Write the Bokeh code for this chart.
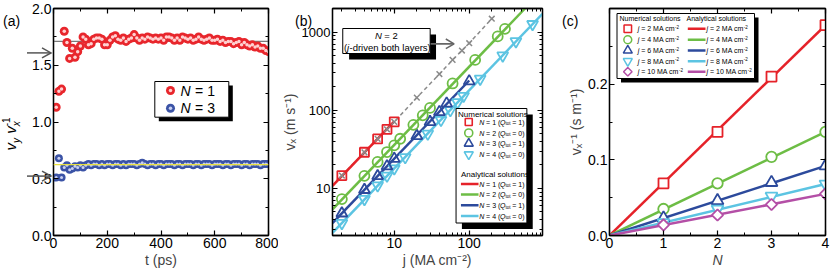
import math
from bokeh.plotting import figure
from bokeh.models import (LinearAxis, LogAxis, Span, NumeralTickFormatter, FixedTicker,
                          SingleIntervalTicker, Range1d, Div)
from bokeh.layouts import row
from bokeh.embed import file_html
from bokeh.resources import INLINE
from bokeh.core.properties import value

FONT = "Liberation Sans"

# ---------------- panel (a) data ----------------
t_ps = list(range(10, 810, 10))
ratio_N1 = [1.13, 1.27, 1.29, 1.80, 1.70, 1.56, 1.65, 1.57, 1.62, 1.67,
            1.75, 1.73, 1.68, 1.69, 1.73, 1.74, 1.74, 1.73, 1.68, 1.68,
            1.72, 1.75, 1.76, 1.73, 1.72, 1.74, 1.71, 1.73, 1.74, 1.77,
            1.74, 1.72, 1.74, 1.73, 1.75, 1.74, 1.73, 1.74, 1.73, 1.74,
            1.72, 1.75, 1.75, 1.74, 1.72, 1.74, 1.72, 1.75, 1.74, 1.73,
            1.74, 1.72, 1.73, 1.75, 1.73, 1.72, 1.73, 1.74, 1.72, 1.72,
            1.73, 1.71, 1.72, 1.70, 1.71, 1.71, 1.69, 1.70, 1.71, 1.68,
            1.70, 1.68, 1.67, 1.68, 1.66, 1.67, 1.65, 1.65, 1.63, 1.62]
ratio_N3 = [0.51, 0.68, 0.51, 0.60, 0.62, 0.58, 0.59, 0.61, 0.60, 0.62,
            0.60, 0.62,
            0.63, 0.62, 0.63, 0.63, 0.62, 0.63, 0.62, 0.63, 0.63, 0.62,
            0.63, 0.63, 0.62, 0.63, 0.62, 0.63, 0.63, 0.63, 0.62, 0.63,
            0.64, 0.63, 0.62, 0.63, 0.63, 0.62, 0.63, 0.63, 0.62, 0.63,
            0.63, 0.63, 0.62, 0.63, 0.63, 0.62, 0.63, 0.63, 0.63, 0.62,
            0.63, 0.63, 0.62, 0.63, 0.63, 0.63, 0.62, 0.63, 0.63, 0.63,
            0.62, 0.63, 0.63, 0.62, 0.63, 0.63, 0.63, 0.62, 0.63, 0.63,
            0.62, 0.63, 0.63, 0.63, 0.62, 0.63, 0.63, 0.63]
ratio_analytic = [1.71, 0.625]
N_legend_a = [1, 3]

# ---------------- panel (b) data ----------------
j_N1 = [2, 4, 6, 8, 10]
v_N1 = [14.6, 29.0, 43.0, 57.0, 71.0]
j_both = [2, 4, 6, 8, 10, 20, 40, 60, 80, 100, 200]
v_both = [14.6, 29.0, 43.0, 57.0, 71.0, 145, 290, 440, 580, 720, 1480]
j_N2 = [2, 4, 6, 8, 10, 12, 18, 24, 30, 60, 120, 240, 300]
v_N2 = [7.3, 14.5, 21.8, 29.2, 35.6, 43.2, 65, 86, 107, 220, 440, 880, 1100]
j_N3 = [2, 4, 6, 8, 10, 20, 30, 40, 50, 100]
v_N3 = [4.8, 9.6, 14.4, 19.2, 24, 47, 71, 95, 122, 235]
j_N4 = [2, 4, 6, 8, 10, 14, 28, 42, 56, 70, 84, 140, 280, 420, 700]
v_N4 = [3.6, 7.3, 10.9, 14.5, 18, 25, 50, 75, 100, 126, 152, 252, 500, 760, 1260]
# analytical solutions (end points)
j_ana_N1 = [1.5, 10]
v_ana_N1 = [10.8, 72]
j_ana_N2 = [1.5, 555]
v_ana_N2 = [5.4, 2000]
j_ana_N3 = [1.5, 100]
v_ana_N3 = [3.6, 240]
j_ana_N4 = [1.5, 950]
v_ana_N4 = [2.7, 1710]
N_legend_b = [1, 2, 3, 4]
Qtot_legend_b = [1, 0, 1, 0]

# ---------------- panel (c) data ----------------
N_num = [1, 2, 3, 4]
inv_j2 = [0.069, 0.137, 0.210, 0.278]
inv_j4 = [0.035, 0.069, 0.104, 0.137]
inv_j6 = [0.023, 0.046, 0.070, 0.092]
inv_j8 = [0.017, 0.035, 0.052, 0.068]
inv_j10 = [0.014, 0.027, 0.041, 0.055]
N_ana = [0, 4]
inv_ana_j2 = [0, 0.278]
inv_ana_j4 = [0, 0.137]
inv_ana_j6 = [0, 0.092]
inv_ana_j8 = [0, 0.068]
inv_ana_j10 = [0, 0.055]
j_legend_c = [2, 4, 6, 8, 10]

RED = "#e52229"
GREEN = "#6dbd45"
BLUE = "#2c4a9c"
CYAN = "#5cc4e2"
MAG = "#b44fa6"
GRAY = "#8a8a8a"
SRED = "#e8262c"
SBLUE = "#3b53a6"

H = 272
FR_TOP, FR_BOT = 8, 235  # frame top / bottom in page pixels

# Arial / Liberation Sans advance widths (em)
CW = {" ": .278, "=": .584, "(": .333, ")": .333, "-": .333, "M": .833, "A": .667,
      "c": .5, "m": .833, "Q": .778, "N": .722, "j": .222, "t": .278, "o": .556,
      "v": .5, "x": .5, "y": .5, ".": .278}


def tw(s, size):
    return sum(CW.get(ch, .556) for ch in s) * size


def style_axis(ax, labels=True, fs="14px"):
    ax.major_tick_in = 5
    ax.major_tick_out = 0
    ax.minor_tick_in = 3
    ax.minor_tick_out = 0
    ax.axis_line_width = 1.3
    ax.major_tick_line_width = 1.2
    ax.minor_tick_line_width = 1
    ax.major_label_text_font = FONT
    ax.axis_label_text_font = FONT
    ax.axis_label_text_font_size = "14px"
    ax.axis_label_text_font_style = "normal"
    ax.axis_label_standoff = 1
    ax.major_label_text_font_size = fs
    if labels:
        ax.major_label_text_color = "black"
        ax.major_label_standoff = 2
    else:
        ax.major_label_text_color = None
        ax.major_label_standoff = 0


def make_fig(width, xr, yr, xtype, ytype, bl, br, xlabel, ylabel):
    p = figure(width=width, height=H, x_range=xr, y_range=yr,
               x_axis_type=xtype, y_axis_type=ytype,
               output_backend="svg", toolbar_location=None,
               min_border_left=bl, min_border_right=br,
               min_border_top=FR_TOP, min_border_bottom=H - FR_BOT,
               x_axis_label=xlabel, y_axis_label=ylabel)
    p.xgrid.visible = False
    p.ygrid.visible = False
    p.outline_line_color = "black"
    p.outline_line_width = 1.3
    p.background_fill_color = "white"
    p.border_fill_color = None
    return p


def add_mirror(p, xticker, yticker, log_x=False, log_y=False):
    top = LogAxis(ticker=xticker) if log_x else LinearAxis(ticker=xticker)
    right = LogAxis(ticker=yticker) if log_y else LinearAxis(ticker=yticker)
    style_axis(top, labels=False)
    style_axis(right, labels=False)
    p.add_layout(top, "above")
    p.add_layout(right, "right")


def rich(p, conv, X, Y, pieces):
    """pieces: (text, size_px, style, dy_px, gap_before_px). Positions in page pixels."""
    for text, size, style, dy, gap in pieces:
        X += gap
        x, y = conv(X, Y + dy)
        p.text(x=[x], y=[y], text=[text], text_font=value(FONT),
               text_font_size=value(f"{size}px"), text_font_style=style,
               text_align="left", text_baseline="middle", text_color="black")
        X += tw(text, size)


# ======================= panel (a) =======================
def a_xy(X, Y):
    return (X - 53) * 800 / 215, (FR_BOT - Y) * 2.0 / (FR_BOT - FR_TOP)


pa = make_fig(278, Range1d(0, 800), Range1d(0, 2.0), "linear", "linear", 53, 10, "t (ps)", None)
xt_a = SingleIntervalTicker(interval=200, num_minor_ticks=2)
yt_a = SingleIntervalTicker(interval=0.5, num_minor_ticks=2)
pa.xaxis.ticker = xt_a
pa.yaxis.ticker = yt_a
pa.xaxis.formatter = NumeralTickFormatter(format="0")
pa.yaxis.formatter = NumeralTickFormatter(format="0.0")
style_axis(pa.xaxis[0])
style_axis(pa.yaxis[0])
add_mirror(pa, xt_a, yt_a)

pa.add_layout(Span(location=ratio_analytic[0], dimension="width", line_color="#7a7a7a",
                   line_width=1.2, level="underlay"))
pa.scatter(t_ps, ratio_N1, marker="circle", size=9, fill_color=SRED, line_color=None)
pa.scatter(t_ps, ratio_N1, marker="circle", size=3.5, fill_color="#ffd0d0", line_color=None)
pa.scatter(t_ps, ratio_N3, marker="circle", size=8, fill_color=SBLUE, line_color=None)
pa.scatter(t_ps, ratio_N3, marker="circle", size=3, fill_color="#c8d0f0", line_color=None)
pa.add_layout(Span(location=ratio_analytic[1], dimension="width", line_color="#e8e040",
                   line_width=1.2))

# legend (a)
sx0, sy0 = a_xy(158.3, 85)
sx1, sy1 = a_xy(232.3, 120.7)
pa.quad(left=[sx0], right=[sx1], top=[sy0], bottom=[sy1], fill_color="black", line_color=None)
bx0, by0 = a_xy(154.3, 81)
bx1, by1 = a_xy(228.3, 116.7)
pa.quad(left=[bx0], right=[bx1], top=[by0], bottom=[by1], fill_color="white",
        line_color="black", line_width=1)
for Yr, col, hl, n in [(90, SRED, "#ffd0d0", N_legend_a[0]), (107.7, SBLUE, "#c8d0f0", N_legend_a[1])]:
    mx, my = a_xy(170, Yr)
    pa.scatter([mx], [my], marker="circle", size=9, fill_color=col, line_color=None)
    pa.scatter([mx], [my], marker="circle", size=3.5, fill_color=hl, line_color=None)
    rich(pa, a_xy, 180, Yr, [("N", 14, "italic", 0, 0), (f"= {n}", 14, "normal", 0, 4.5)])

# ======================= panel (b) =======================
LX0, LX1 = math.log10(1.5), math.log10(950)
LY0, LY1 = math.log10(2.5), math.log10(2000)


def b_xy(X, Y):
    return (10 ** (LX0 + (X - 327) / 215 * (LX1 - LX0)),
            10 ** (LY0 + (FR_BOT - Y) / (FR_BOT - FR_TOP) * (LY1 - LY0)))


pb = make_fig(281, Range1d(1.5, 950), Range1d(2.5, 2000), "log", "log", 49, 17,
              "j (MA cm⁻²)", "vₓ (m s⁻¹)")
majors = [1, 10, 100, 1000, 10000]
minors = [m * d for d in [1, 10, 100, 1000] for m in range(2, 10)]
xt_b = FixedTicker(ticks=majors, minor_ticks=minors)
yt_b = FixedTicker(ticks=majors, minor_ticks=minors)
pb.xaxis.ticker = xt_b
pb.yaxis.ticker = yt_b
pb.xaxis.formatter = NumeralTickFormatter(format="0")
pb.yaxis.formatter = NumeralTickFormatter(format="0")
style_axis(pb.xaxis[0], fs="14px")
style_axis(pb.yaxis[0], fs="13px")
add_mirror(pb, xt_b, yt_b, True, True)

pb.line(j_ana_N4, v_ana_N4, line_color=CYAN, line_width=2.5)
pb.line(j_ana_N3, v_ana_N3, line_color=BLUE, line_width=2.5)
pb.line(j_ana_N2, v_ana_N2, line_color=GREEN, line_width=2.5)
pb.line(j_both, v_both, line_color=GRAY, line_width=1.5, line_dash="4 3")
pb.line(j_ana_N1, v_ana_N1, line_color=RED, line_width=2.5)
pb.scatter(j_N4, v_N4, marker="inverted_triangle", size=11, fill_color=None,
           line_color=CYAN, line_width=1.8)
pb.scatter(j_N3, v_N3, marker="triangle", size=11, fill_color=None,
           line_color=BLUE, line_width=1.8)
pb.scatter(j_N2, v_N2, marker="circle", size=10, fill_color=None,
           line_color=GREEN, line_width=1.8)
pb.scatter(j_N1, v_N1, marker="square", size=9, fill_color=None,
           line_color=RED, line_width=1.8)
pb.scatter(j_both, v_both, marker="x", size=8, line_color=GRAY, line_width=1.5)

# annotation box
x0, y0 = b_xy(344, 34)
x1, y1 = b_xy(433, 59)
pb.quad(left=[x0], right=[x1], top=[y0], bottom=[y1], fill_color="black", line_color=None)
x0, y0 = b_xy(337.5, 28)
x1, y1 = b_xy(427, 53)
pb.quad(left=[x0], right=[x1], top=[y0], bottom=[y1], fill_color="white",
        line_color="black", line_width=1)
rich(pb, b_xy, 370.5, 34.5, [("N", 9.5, "italic", 0, 0), ("= 2", 9.5, "normal", 0, 2.6)])
rich(pb, b_xy, 338.8, 46.5, [("(", 9.5, "normal", 0, 0), ("j", 9.5, "italic", 0, 0),
                             ("-driven both layers)", 9.5, "normal", 0, 0.3)])
# arrow from the box towards the crosses
ax0, ay0 = b_xy(427.5, 43.3)
ax1, _ = b_xy(451, 43.3)
pb.line([ax0, ax1], [ay0, ay0], line_color="#666666", line_width=1.8)
hx0, hy0 = b_xy(443, 38.5)
hx1, hy1 = b_xy(451.5, 43.3)
hx2, hy2 = b_xy(443, 48.1)
pb.line([hx0, hx1, hx2], [hy0, hy1, hy2], line_color="#666666", line_width=1.5)

# legend (b)
x0, y0 = b_xy(459.5, 114)
x1, y1 = b_xy(532, 228.5)
pb.quad(left=[x0], right=[x1], top=[y0], bottom=[y1], fill_color="black", line_color=None)
x0, y0 = b_xy(453.5, 108)
x1, y1 = b_xy(526, 222.5)
pb.quad(left=[x0], right=[x1], top=[y0], bottom=[y1], fill_color="white",
        line_color="black", line_width=1)
rich(pb, b_xy, 455.5, 113.5, [("Numerical solutions", 8, "normal", 0, 0)])
rich(pb, b_xy, 458.5, 173.5, [("Analytical solutions", 8, "normal", 0, 0)])
markers_b = [("square", RED, 7), ("circle", GREEN, 8), ("triangle", BLUE, 9),
             ("inverted_triangle", CYAN, 9)]
rows_num = [121.5, 132.5, 143, 154]
rows_ana = [183.5, 194, 204.7, 215.5]
mx_b, _ = b_xy(466.5, 0)
l0_b, _ = b_xy(458.5, 0)
l1_b, _ = b_xy(476.5, 0)
for (mk, col, sz), Yn, Ya, n, q in zip(markers_b, rows_num, rows_ana, N_legend_b, Qtot_legend_b):
    _, yn = b_xy(0, Yn)
    _, ya = b_xy(0, Ya)
    pb.scatter([mx_b], [yn], marker=mk, size=sz, fill_color=None, line_color=col, line_width=1.6)
    pb.line([l0_b, l1_b], [ya, ya], line_color=col, line_width=2.5)
    for Yr in (Yn, Ya):
        rich(pb, b_xy, 477.3, Yr, [("N", 7, "italic", 0, 0),
                                   (f"= {n} (", 7, "normal", 0, 1.9),
                                   ("Q", 7, "italic", 0, 0),
                                   ("tot", 4.5, "normal", 1.8, 0.2),
                                   (f"= {q})", 7, "normal", 0, 1.9)])

# ======================= panel (c) =======================
def c_xy(X, Y):
    return (X - 609) * 4 / 216, (FR_BOT - Y) * 0.3 / (FR_BOT - FR_TOP)


pc = make_fig(271, Range1d(0, 4), Range1d(0, 0.3), "linear", "linear", 50, 5,
              "N", "vₓ⁻¹ (s m⁻¹)")
xt_c = SingleIntervalTicker(interval=1, num_minor_ticks=2)
yt_c = SingleIntervalTicker(interval=0.1, num_minor_ticks=2)
pc.xaxis.ticker = xt_c
pc.yaxis.ticker = yt_c
pc.xaxis.formatter = NumeralTickFormatter(format="0")
pc.yaxis.formatter = NumeralTickFormatter(format="0.0")
style_axis(pc.xaxis[0])
style_axis(pc.yaxis[0])
pc.xaxis[0].axis_label_text_font_style = "italic"
add_mirror(pc, xt_c, yt_c)

series_c = [(inv_j2, inv_ana_j2, RED, "square", 10, 0),
            (inv_j4, inv_ana_j4, GREEN, "circle", 10.5, 0),
            (inv_j6, inv_ana_j6, BLUE, "triangle", 12, 0),
            (inv_j8, inv_ana_j8, CYAN, "inverted_triangle", 12, 0),
            (inv_j10, inv_ana_j10, MAG, "square", 8, math.pi / 4)]
for num, ana, col, mk, sz, ang in series_c:
    pc.line(N_ana, ana, line_color=col, line_width=2.5)
for num, ana, col, mk, sz, ang in series_c:
    pc.scatter(N_num, num, marker=mk, size=sz, angle=ang, fill_color="white",
               line_color=col, line_width=1.8)

# legend (c)
x0, y0 = c_xy(620.5, 17)
x1, y1 = c_xy(758, 82)
pc.quad(left=[x0], right=[x1], top=[y0], bottom=[y1], fill_color="black", line_color=None)
x0, y0 = c_xy(616.5, 13)
x1, y1 = c_xy(754, 78)
pc.quad(left=[x0], right=[x1], top=[y0], bottom=[y1], fill_color="white",
        line_color="black", line_width=1)
rich(pc, c_xy, 619, 18, [("Numerical solutions", 7, "normal", 0, 0)])
rich(pc, c_xy, 686, 18, [("Analytical solutions", 7, "normal", 0, 0)])
rows_c = [28.3, 39.3, 50, 60.7, 71.3]
mx_c, _ = c_xy(627.3, 0)
l0_c, _ = c_xy(687.3, 0)
l1_c, _ = c_xy(705, 0)
for (num, ana, col, mk, sz, ang), Yr, jv in zip(series_c, rows_c, j_legend_c):
    _, yr = c_xy(0, Yr)
    pc.scatter([mx_c], [yr], marker=mk, size=sz * 0.75, angle=ang, fill_color="white",
               line_color=col, line_width=1.5)
    pc.line([l0_c, l1_c], [yr, yr], line_color=col, line_width=2.5)
    for X0 in (637.3, 706):
        rich(pc, c_xy, X0, Yr, [("j", 7, "italic", 0, 0),
                                (f"= {jv} MA cm", 7, "normal", 0, 1.9),
                                ("-2", 4.5, "normal", -2, 0.2)])

# ============ texts outside the frames (panel letters, rich y title, arrows) ============
def a_screen_y(r):
    return FR_BOT - r / 2.0 * (FR_BOT - FR_TOP)


SPAN = "position:absolute;z-index:20;white-space:nowrap;font-family:'Liberation Sans';color:black;"
arrows = ""
for r in ratio_analytic:
    ys = a_screen_y(r)
    arrows += (f'<line x1="27" y1="{ys:.1f}" x2="51" y2="{ys:.1f}" stroke="#555" stroke-width="1.5"/>'
               f'<polyline points="42,{ys - 5:.1f} 51,{ys:.1f} 42,{ys + 5:.1f}" fill="none" '
               f'stroke="#555" stroke-width="1.5"/>')
html = (
    '<div style="position:relative;width:0;height:0;overflow:visible;">'
    f'<span style="{SPAN}left:3px;top:2px;font-size:14px;line-height:15px;">(a)</span>'
    f'<span style="{SPAN}left:295px;top:2px;font-size:14px;line-height:15px;">(b)</span>'
    f'<span style="{SPAN}left:562px;top:2px;font-size:14px;line-height:15px;">(c)</span>'
    f'<span style="{SPAN}left:12px;top:122px;font-size:15px;line-height:16px;'
    'transform:translate(-50%,-50%) rotate(-90deg);">'
    '<i>v</i><sub style="font-size:10px;"><i>y</i></sub> <i>v</i><sub style="font-size:10px;"><i>x</i></sub>'
    '<sup style="font-size:10px;margin-left:-5px;">-1</sup></span>'
    f'<svg style="position:absolute;left:0;top:0;z-index:20;overflow:visible;" width="60" height="{H}">'
    f'{arrows}</svg>'
    '</div>'
)
overlay = Div(text=html, width=0, height=H, margin=0, styles={"overflow": "visible"})

layout = row(overlay, pa, pb, pc)
open("out.html", "w").write(file_html(layout, INLINE))
